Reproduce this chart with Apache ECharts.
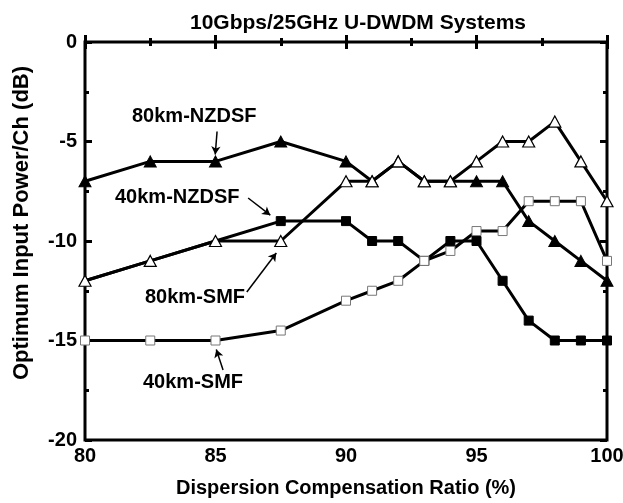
<!DOCTYPE html>
<html>
<head>
<meta charset="utf-8">
<script src="https://cdn.jsdelivr.net/npm/echarts@6/dist/echarts.min.js"></script>
<style>html,body{margin:0;padding:0;background:#fff;}#c{width:623px;height:503px;}</style>
</head>
<body>
<div id="c"></div>
<script>
// ---- data ----
const xTicks = [80, 85, 90, 95, 100];
const yTicks = [0, -5, -10, -15, -20];
const xNZ80 = [80, 82.5, 85, 87.5, 90, 91, 92, 93, 94, 95, 96, 97, 98, 99, 100];
const yNZ80 = [-7, -6, -6, -5, -6, -7, -6, -7, -7, -7, -7, -9, -10, -11, -12];
const xNZ40 = [80, 82.5, 85, 87.5, 90, 91, 92, 93, 94, 95, 96, 97, 98, 99, 100];
const yNZ40 = [-12, -11, -10, -9, -9, -10, -10, -11, -10, -10, -12, -14, -15, -15, -15];
const xSMF80 = [80, 82.5, 85, 87.5, 90, 91, 92, 93, 94, 95, 96, 97, 98, 99, 100];
const ySMF80 = [-12, -11, -10, -10, -7, -7, -6, -7, -7, -6, -5, -5, -4, -6, -8];
const xSMF40 = [80, 82.5, 85, 87.5, 90, 91, 92, 93, 94, 95, 96, 97, 98, 99, 100];
const ySMF40 = [-15, -15, -15, -14.5, -13, -12.5, -12, -11, -10.5, -9.5, -9.5, -8, -8, -8, -11];
const labels = ['80km-NZDSF', '40km-NZDSF', '80km-SMF', '40km-SMF'];
const yName = 'Optimum Input Power/Ch (dB)';
const xName = 'Dispersion Compensation Ratio (%)';
const titleText = '10Gbps/25GHz U-DWDM Systems';
// arrows in data coordinates: [from, to]
const arrows = [
  [[85.06, -4.5], [84.99, -5.65]],
  [[86.25, -7.84], [87.1, -8.7]],
  [[86.2, -12.56], [87.33, -10.6]],
  [[85.29, -16.48], [85.03, -15.45]]
];

const pair = (xs, ys) => xs.map((x, i) => [x, ys[i]]);
const font = "'Liberation Sans', Arial, sans-serif";

const chart = echarts.init(document.getElementById('c'), null, {renderer: 'canvas'});

const tickCommon = {
  axisLine: {show: false},
  splitLine: {show: false},
  axisTick: {show: true, inside: true, length: 7, lineStyle: {color: '#000', width: 3}},
  minorTick: {show: true, splitNumber: 2, length: 4, lineStyle: {color: '#000', width: 3}}
};

chart.setOption({
  animation: false,
  backgroundColor: '#fff',
  title: {
    text: titleText,
    left: 353, top: 8, textAlign: 'center',
    textStyle: {fontFamily: font, fontWeight: 'bold', fontSize: 21, color: '#000'}
  },
  grid: {left: 85, right: 16, top: 42, bottom: 63, show: true, borderColor: '#000', borderWidth: 3,
    backgroundColor: 'transparent', outerBoundsMode: 'none', containLabel: false},
  xAxis: [
    Object.assign({
      type: 'value', min: 80, max: 100, interval: 5, position: 'bottom',
      name: xName, nameLocation: 'middle', nameGap: 38,
      nameTextStyle: {fontFamily: font, fontWeight: 'bold', fontSize: 20, color: '#000'},
      axisLabel: {margin: 6, fontFamily: font, fontWeight: 'bold', fontSize: 20, color: '#000',
        formatter: v => xTicks.includes(v) ? String(v) : ''}
    }, tickCommon),
    Object.assign({type: 'value', min: 80, max: 100, interval: 5, position: 'top', axisLabel: {show: false}}, tickCommon)
  ],
  yAxis: [
    Object.assign({
      type: 'value', min: -20, max: 0, interval: 5, position: 'left',
      axisLabel: {margin: 8, fontFamily: font, fontWeight: 'bold', fontSize: 20, color: '#000',
        formatter: v => yTicks.includes(v) ? String(v) : ''}
    }, tickCommon),
    Object.assign({type: 'value', min: -20, max: 0, interval: 5, position: 'right', axisLabel: {show: false}}, tickCommon)
  ],
  graphic: [
    {type: 'text', x: 22, y: 223, rotation: Math.PI / 2,
      style: {text: yName, font: 'bold 22px ' + font, fill: '#000', textAlign: 'center', textVerticalAlign: 'middle'}},
    {type: 'text', left: 132, top: 106, style: {text: labels[0], font: 'bold 20px ' + font, fill: '#000'}},
    {type: 'text', left: 115, top: 187, style: {text: labels[1], font: 'bold 20px ' + font, fill: '#000'}},
    {type: 'text', left: 145, top: 287, style: {text: labels[2], font: 'bold 20px ' + font, fill: '#000'}},
    {type: 'text', left: 143, top: 372, style: {text: labels[3], font: 'bold 20px ' + font, fill: '#000'}}
  ],
  series: [
    {
      name: labels[1], type: 'line', data: pair(xNZ40, yNZ40),
      symbol: (v, p) => p.dataIndex < 3 ? 'none' : 'rect', symbolSize: 9,
      showAllSymbol: true,
      lineStyle: {color: '#000', width: 3}, itemStyle: {color: '#000', borderColor: '#000'}
    },
    {
      name: labels[0], type: 'line', data: pair(xNZ80, yNZ80),
      symbol: 'triangle', symbolSize: [12, 11], showAllSymbol: true,
      lineStyle: {color: '#000', width: 3}, itemStyle: {color: '#000', borderColor: '#000'},
      markLine: {
        silent: true, symbol: ['none', 'arrow'], symbolSize: [7, 8],
        label: {show: false},
        lineStyle: {color: '#000', width: 1.5, type: 'solid'},
        data: arrows.map(a => [{coord: a[0]}, {coord: a[1]}])
      }
    },
    {
      name: labels[3], type: 'line', data: pair(xSMF40, ySMF40),
      symbol: 'rect', symbolSize: 9, showAllSymbol: true,
      lineStyle: {color: '#000', width: 3}, itemStyle: {color: '#fff', borderColor: '#777', borderWidth: 1}
    },
    {
      name: labels[2], type: 'line', data: pair(xSMF80, ySMF80),
      symbol: 'triangle', symbolSize: [12, 11], showAllSymbol: true,
      lineStyle: {color: '#000', width: 3}, itemStyle: {color: '#fff', borderColor: '#000', borderWidth: 1.2}
    }
  ]
});
</script>
</body>
</html>
